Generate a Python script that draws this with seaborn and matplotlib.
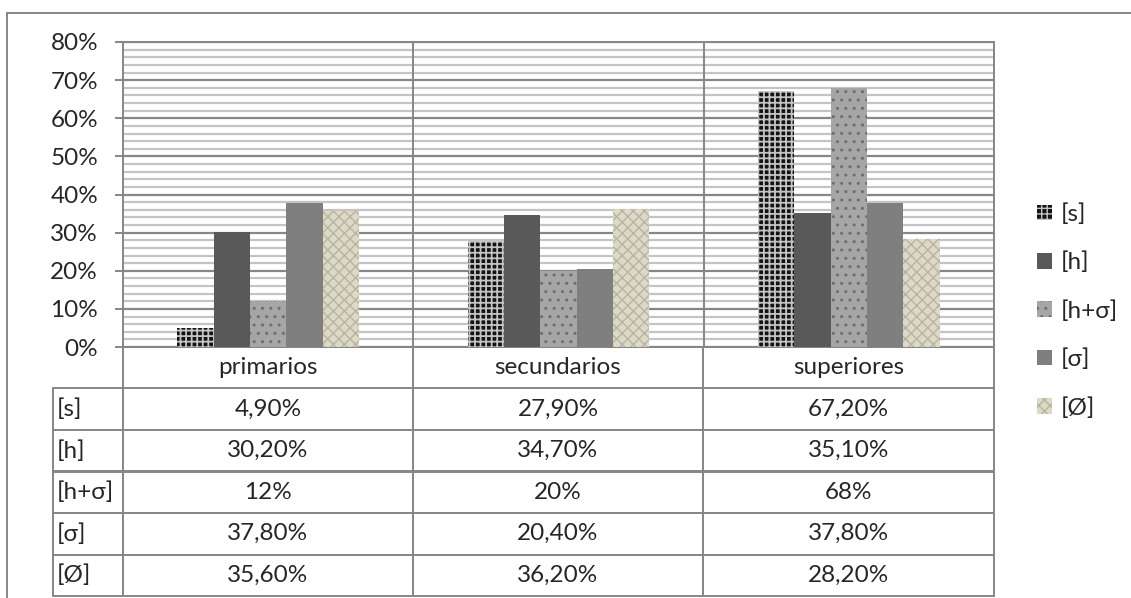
import pandas as pd
import matplotlib.pyplot as plt
import seaborn as sns
from matplotlib.patches import Rectangle
from matplotlib.ticker import MultipleLocator, PercentFormatter

# datos del grafico
niveles = ["primarios", "secundarios", "superiores"]
series = ["[s]", "[h]", "[h+σ]", "[σ]", "[Ø]"]
val_s = [4.9, 27.9, 67.2]
val_h = [30.2, 34.7, 35.1]
val_hs = [12, 20, 68]
val_sigma = [37.8, 20.4, 37.8]
val_vacio = [35.6, 36.2, 28.2]
decimales = [2, 2, 0, 2, 2]

colores = ["#141414", "#595959", "#a6a6a6", "#7f7f7f", "#ddd9c3"]
tramas = ["+++", "", "..", "", "xxx"]
color_trama = ["#c4c4c4", "#595959", "#6e6e6e", "#7f7f7f", "#b6b4a6"]
grosor_trama = [1.3, 1.0, 1.0, 1.0, 1.0]
GRIS = "#868686"
FS = 17.5


def armar_df():
    valores = [val_s, val_h, val_hs, val_sigma, val_vacio]
    filas = []
    for serie, vals in zip(series, valores):
        for nivel, v in zip(niveles, vals):
            filas.append({"nivel": nivel, "serie": serie, "valor": v / 100})
    return pd.DataFrame(filas), valores


def fmt(v, d):
    return f"{v:.{d}f}%".replace(".", ",")


def main():
    df, valores = armar_df()

    sns.set_style("white")
    plt.rcParams["font.family"] = ["Lato", "DejaVu Sans"]

    fig = plt.figure(figsize=(11.31, 5.98), dpi=100)
    ax = fig.add_axes([123 / 1131, 1 - 347 / 598, 871 / 1131, 305 / 598])

    sns.barplot(data=df, x="nivel", y="valor", hue="serie", order=niveles,
                hue_order=series, palette=colores, saturation=1, width=0.625,
                errorbar=None, legend=False, ax=ax)

    for cont, fc, h, hc, lw in zip(ax.containers, colores, tramas, color_trama, grosor_trama):
        for p in cont.patches:
            p.set_facecolor(fc)
            p.set_edgecolor(hc)
            p.set_linewidth(0)
            p.set_hatch(h)
            if hasattr(p, "set_hatch_linewidth"):
                p.set_hatch_linewidth(lw)
            p.set_zorder(3)

    ax.set_ylim(0, 0.8)
    ax.set_xlim(-0.5, 2.5)
    ax.yaxis.set_major_locator(MultipleLocator(0.1))
    ax.yaxis.set_minor_locator(MultipleLocator(0.02))
    ax.yaxis.set_major_formatter(PercentFormatter(1, decimals=0))
    ax.grid(axis="y", which="minor", color="#c4c4c4", linewidth=1.6, zorder=0)
    ax.grid(axis="y", which="major", color=GRIS, linewidth=1.6, zorder=1)
    ax.set_axisbelow(True)
    for x in [0.5, 1.5]:
        ax.axvline(x, color=GRIS, linewidth=1.4, zorder=2)
    for s in ax.spines.values():
        s.set_color(GRIS)
        s.set_linewidth(1.4)
    ax.tick_params(axis="y", which="major", left=True, length=6, color=GRIS,
                   width=1.4, pad=12, labelsize=FS)
    ax.tick_params(axis="y", which="minor", left=False)
    ax.tick_params(axis="x", bottom=False, labelbottom=False)
    ax.set_xlabel("")
    ax.set_ylabel("")

    # tabla de datos: primera columna con los nombres de las series
    texto = [[nombre] + [fmt(v, d) for v in vals]
             for nombre, vals, d in zip(series, valores, decimales)]
    tabla = ax.table(cellText=texto, colLabels=[""] + niveles, cellLoc="center",
                     colWidths=[70, 290, 290, 291],
                     bbox=[-70 / 871, -249 / 305, 941 / 871, 249 / 305])
    tabla.auto_set_font_size(False)
    tabla.set_fontsize(FS)
    for (r, c), cell in tabla.get_celld().items():
        cell.set_edgecolor(GRIS)
        cell.set_linewidth(1.4)
        if c == 0:
            cell._loc = "left"
            cell.get_text().set_horizontalalignment("left")
            cell.PAD = 0.06
            if r == 0:
                cell.visible_edges = "open"

    ax.legend(handles=ax.containers, labels=series, loc="center left",
              bbox_to_anchor=(1037 / 1131, 1 - 311 / 598),
              bbox_transform=fig.transFigure, frameon=False, fontsize=FS,
              borderaxespad=0, borderpad=0, handlelength=0.62,
              handleheight=0.62, handletextpad=0.35, labelspacing=1.1)

    fig.add_artist(Rectangle((7 / 1131, -0.1), 1.2, 0.1 + 1 - 13 / 598,
                             transform=fig.transFigure, fill=False,
                             edgecolor=GRIS, linewidth=1.4))

    fig.savefig("out.png", dpi=100)
    plt.close(fig)


if __name__ == "__main__":
    main()
